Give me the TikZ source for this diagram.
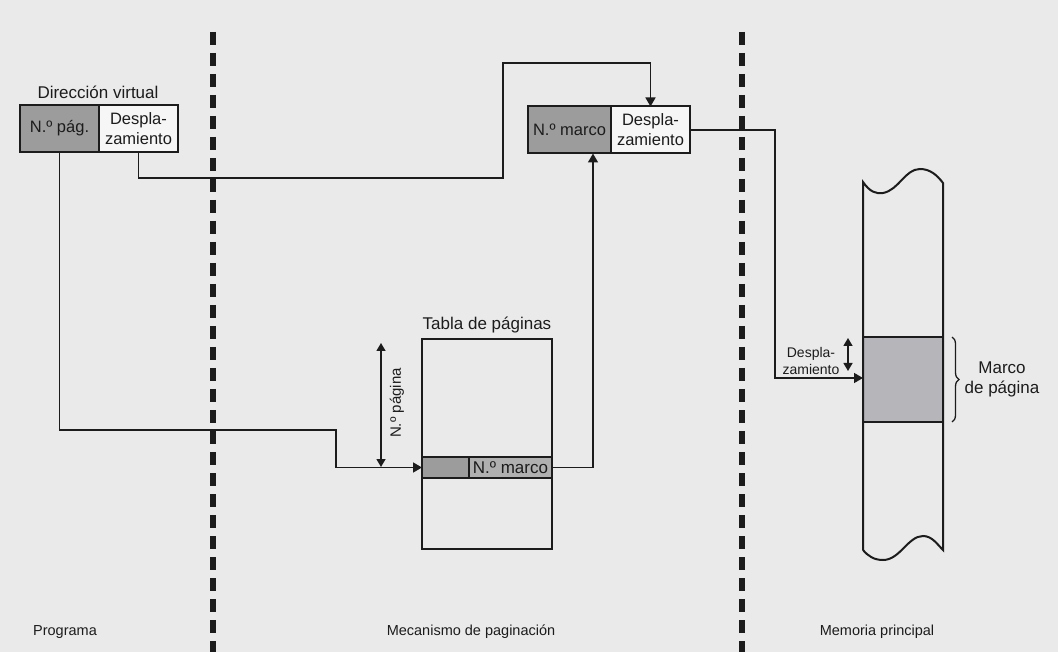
\documentclass[tikz,border=0pt]{standalone}
\usepackage{fontspec}
\setmainfont{Liberation Sans}
\usetikzlibrary{arrows.meta,positioning,decorations.pathreplacing}
\definecolor{ink}{HTML}{1C1C1C}
\definecolor{paper}{HTML}{EAEAEA}
\definecolor{cellgray}{HTML}{9C9C9C}
\definecolor{rowgray}{HTML}{B0B0B0}
\definecolor{framegray}{HTML}{B6B6BA}
\definecolor{cellwhite}{HTML}{F6F6F6}

\begin{document}
\begin{tikzpicture}[
 x=1pt,y=-1pt,
 txt/.style={font=\fontsize{17}{20}\selectfont,text=ink,inner sep=0pt,align=center},
 small/.style={font=\fontsize{14}{17}\selectfont,text=ink,inner sep=0pt,align=center},
 caption/.style={font=\fontsize{14.5}{17}\selectfont,text=ink,inner sep=0pt},
 cell/.style={draw=ink,line width=2pt,minimum height=47pt,inner sep=0pt,outer sep=0pt,align=center,font=\fontsize{16.5}{20}\selectfont,text=ink},
 gcell/.style={cell,fill=cellgray},
 wcell/.style={cell,fill=cellwhite},
 rowcell/.style={draw=ink,line width=2pt,minimum height=21pt,inner sep=0pt,outer sep=0pt,font=\fontsize{17}{20}\selectfont,text=ink},
 arr/.style={-{Triangle[length=9pt,width=10pt]},line width=1.5pt,draw=ink},
 darr/.style={{Triangle[length=8pt,width=9pt]}-{Triangle[length=8pt,width=9pt]},line width=1.4pt,draw=ink},
 sep/.style={line width=6pt,draw=ink,dash pattern=on 13pt off 8pt},
 memline/.style={line width=2pt,draw=ink}
]
\useasboundingbox[fill=paper] (0,0) rectangle (1058,652);

% separators
\coordinate (s1a) at (213,32); \coordinate (s1b) at (213,652);
\coordinate (s2a) at (742,32); \coordinate (s2b) at (742,652);
\draw[sep] (s1a) -- (s1b);
\draw[sep] (s2a) -- (s2b);

% virtual address
\node[txt,anchor=base] (dvlabel) at (98,99) {Dirección virtual};
\node[gcell,minimum width=79pt] (pag) at (59.5,128.5) {N.º pág.};
\node[wcell,minimum width=79pt,right=0pt of pag] (desp) {Despla-\\zamiento};

% physical address
\node[gcell,minimum width=83pt] (marco) at (569.5,130) {N.º marco};
\node[wcell,minimum width=79pt,right=0pt of marco] (desp2) {Despla-\\zamiento};

% page table
\node[draw=ink,line width=2.4pt,minimum width=130pt,minimum height=210pt,inner sep=0pt,outer sep=0pt] (tabla) at (487,444) {};
\node[txt,above=6pt of tabla] (titulo) {Tabla de páginas};
\node[rowcell,fill=cellgray,minimum width=47pt] (ficell) at (445.5,467.5) {};
\node[rowcell,fill=rowgray,minimum width=83pt,right=0pt of ficell] (mrow) {N.º marco};
\coordinate (np1) at (381,343); \coordinate (np2) at (381,467);
\draw[darr] (np1) -- (np2);
\node[small,font=\fontsize{15}{17}\selectfont,rotate=90] (nplabel) at (397,403) {N.º página};

% main memory
\node[fill=framegray,minimum width=80pt,minimum height=85pt,inner sep=0pt,outer sep=0pt] (frame) at (903,379.5) {};
\draw[memline] (863,550) -- (863,182)
  .. controls (870,192) and (876,194) .. (883,193)
  .. controls (899,190) and (905,169) .. (920,169)
  .. controls (930,169) and (937,175) .. (943,183)
  -- (943,550)
  .. controls (937,544) and (932,536) .. (923,536)
  .. controls (908,536) and (900,560) .. (883,560)
  .. controls (874,560) and (868,556) .. (863,550);
\draw[memline,line width=2.8pt] (frame.north west) -- (frame.north east);
\draw[memline,line width=2.8pt] (frame.south west) -- (frame.south east);
\draw[line width=1.3pt,draw=ink,decorate,decoration={brace,amplitude=7pt}] (952,337) -- (952,422);
\node[txt] (marcolbl) at (1002,379) {Marco\\de página};
\coordinate (dz1) at (848,338); \coordinate (dz2) at (848,371);
\draw[darr] (dz1) -- (dz2);
\node[small] (dzlabel) at (811,361) {Despla-\\zamiento};

% connectors
\coordinate (k1) at (336,430);
\draw[arr] (pag.south) |- (k1) |- (ficell.west);
\coordinate (k2) at (503,178); \coordinate (k3) at (503,63);
\draw[arr] (desp.south) |- (k2) -- (k3) -| (desp2.north);
\coordinate (k4) at (593,467.5);
\draw[arr] (mrow.east) -- (k4) -- (k4 |- marco.south);
\coordinate (k5) at (775,378);
\draw[arr] (desp2.east) -| (k5) -- (k5 -| frame.west);

% captions
\node[caption] (prog) at (65,632) {Programa};
\node[caption] (mecan) at (471,632) {Mecanismo de paginación};
\node[caption] (memo) at (877,632) {Memoria principal};
\end{tikzpicture}
\end{document}
